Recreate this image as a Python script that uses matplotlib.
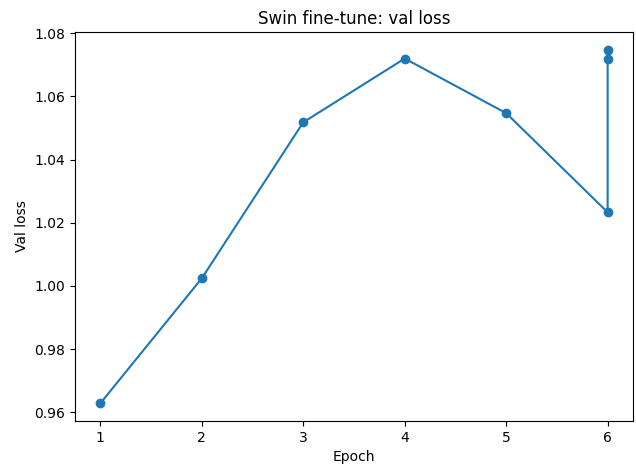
import matplotlib
matplotlib.use("Agg")
import matplotlib.pyplot as plt

epochs = [1, 2, 3, 4, 5, 6, 6, 6]
val_loss = [0.9628, 1.0024, 1.0518, 1.0720, 1.0547, 1.0233, 1.0718, 1.0748]

fig, ax = plt.subplots(figsize=(6.36, 4.65), dpi=100)
ax.plot(epochs, val_loss, marker="o")
ax.set_title("Swin fine-tune: val loss")
ax.set_xlabel("Epoch")
ax.set_ylabel("Val loss")
fig.subplots_adjust(left=75/636, right=633/636, top=1-32/465, bottom=1-421/465)
fig.savefig("out.png", dpi=100)
